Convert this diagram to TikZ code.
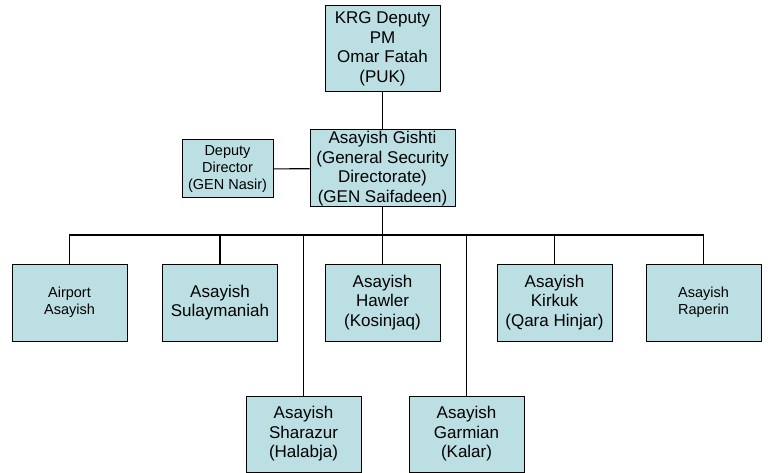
\documentclass[tikz,border=0pt]{standalone}
\usepackage{fontspec}
\setmainfont{Liberation Sans}
\usepackage{tikz}
\usepackage{xcolor}
\usetikzlibrary{positioning}
\definecolor{asblue}{RGB}{188, 223, 228}
\definecolor{asline}{RGB}{0, 0, 0}
\tikzset{
    asbox/.style={rectangle, draw=asline, line width=1pt, fill=asblue, inner sep=0pt,
        align=center, minimum width=115pt, minimum height=77pt, font=\fontsize{17}{19.5}\selectfont},
    smallbox/.style={asbox, font=\fontsize{14.5}{17}\selectfont},
    link/.style={draw=asline, line width=1.1pt}
}

\begin{document}
\begin{tikzpicture}[x=1pt, y=-1pt]
    \useasboundingbox (0,0) rectangle (768,473);
    % top levels
    \node[asbox, minimum height=86pt] (fatah) at (382.5,49) {KRG Deputy\\PM\\Omar Fatah\\(PUK)};
    \node[asbox, minimum width=145pt] (gishti) at (382.5,168.5) {Asayish Gishti\\(General Security\\Directorate)\\(GEN Saifadeen)};
    \node[smallbox, minimum width=91pt, minimum height=58pt] (deputy) at (227.5,169) {Deputy\\Director\\(GEN Nasir)};
    % first row
    \node[smallbox] (airport) at (69.5,302.5) {Airport\\Asayish};
    \node[asbox] (sulay) at (220,302.5) {Asayish\\Sulaymaniah};
    \node[asbox] (hawler) at (382.5,302.5) {Asayish\\Hawler\\(Kosinjaq)};
    \node[asbox] (kirkuk) at (554.5,302.5) {Asayish\\Kirkuk\\(Qara Hinjar)};
    \node[smallbox] (raperin) at (703.5,302.5) {Asayish\\Raperin};
    % second row
    \node[asbox, minimum height=76pt] (sharazur) at (303.5,434) {Asayish\\Sharazur\\(Halabja)};
    \node[asbox, minimum height=76pt] (garmian) at (466.5,434) {Asayish\\Garmian\\(Kalar)};
    % connectors
    \coordinate (bus) at (382.5,235);
    \draw[link] (fatah) -- (gishti);
    \draw[link] (deputy) -- (gishti);
    \draw[link] (gishti) -- (bus);
    \foreach \n in {airport, sulay, hawler, kirkuk, raperin, sharazur, garmian}
        \draw[link] (bus) -| (\n.north);
\end{tikzpicture}
\end{document}
